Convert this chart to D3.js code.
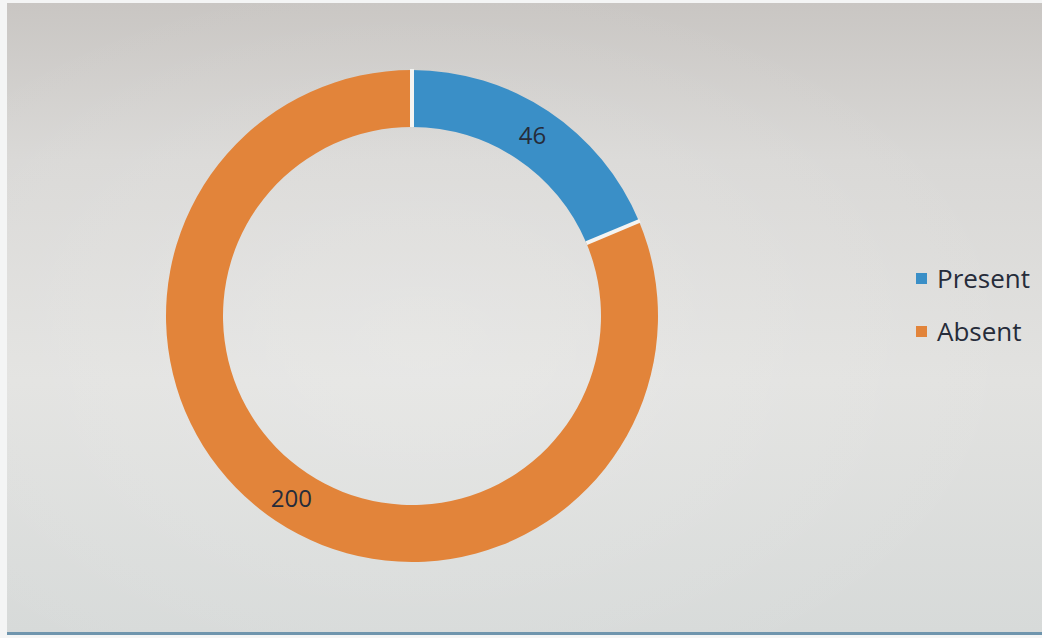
<!DOCTYPE html>
<html>
<head>
<meta charset="utf-8">
<script src="https://cdn.jsdelivr.net/npm/d3@7/dist/d3.min.js"></script>
<style>
  html, body { margin: 0; padding: 0; background: #f4f5f5; }
  svg { display: block; }
</style>
</head>
<body>
<svg id="chart" width="1042" height="638"></svg>
<script>
// Attendance breakdown
const categories = ["Present", "Absent"];
const values = [46, 200];
const colors = ["#3a8fc7", "#e2843a"];

const W = 1042, H = 638;
const svg = d3.select("#chart");

// paper-like backdrop with soft lighting
const defs = svg.append("defs");
const lg = defs.append("linearGradient").attr("id", "bg").attr("x1", 0).attr("y1", 0).attr("x2", 0).attr("y2", 1);
lg.append("stop").attr("offset", "0%").attr("stop-color", "#c9c6c3");
lg.append("stop").attr("offset", "25%").attr("stop-color", "#d9d8d6");
lg.append("stop").attr("offset", "60%").attr("stop-color", "#e2e2e0");
lg.append("stop").attr("offset", "100%").attr("stop-color", "#d7dad9");
const rg = defs.append("radialGradient").attr("id", "glow").attr("cx", 0.4).attr("cy", 0.55).attr("r", 0.6);
rg.append("stop").attr("offset", "0%").attr("stop-color", "#ffffff").attr("stop-opacity", 0.2);
rg.append("stop").attr("offset", "100%").attr("stop-color", "#ffffff").attr("stop-opacity", 0);

svg.append("rect").attr("x", 7).attr("y", 3).attr("width", W - 7).attr("height", 630).attr("fill", "url(#bg)");
svg.append("rect").attr("x", 7).attr("y", 3).attr("width", W - 7).attr("height", 630).attr("fill", "url(#glow)");
svg.append("rect").attr("x", 7).attr("y", 632).attr("width", W - 7).attr("height", 3).attr("fill", "#6f95ad");

// donut
const cx = 412, cy = 316, rOuter = 246, rInner = 189;
const pie = d3.pie().sort(null).value(d => d.value);
const arc = d3.arc().innerRadius(rInner).outerRadius(rOuter);
const data = categories.map((c, i) => ({ name: c, value: values[i], color: colors[i] }));
const arcs = pie(data);

const g = svg.append("g").attr("transform", `translate(${cx},${cy})`);
g.selectAll("path.slice")
  .data(arcs)
  .join("path")
  .attr("class", "slice")
  .attr("d", arc)
  .attr("fill", d => d.data.color);

// white separators between slices
g.selectAll("line.sep")
  .data(arcs)
  .join("line")
  .attr("class", "sep")
  .attr("x1", d => rInner * Math.sin(d.startAngle))
  .attr("y1", d => -rInner * Math.cos(d.startAngle))
  .attr("x2", d => (rOuter + 1) * Math.sin(d.startAngle))
  .attr("y2", d => -(rOuter + 1) * Math.cos(d.startAngle))
  .attr("stroke", "#f4f4f2")
  .attr("stroke-width", 4);

g.selectAll("text.val")
  .data(arcs)
  .join("text")
  .attr("class", "val")
  .attr("transform", d => `translate(${arc.centroid(d)})`)
  .attr("text-anchor", "middle")
  .attr("dominant-baseline", "central")
  .attr("font-family", "'Open Sans', 'DejaVu Sans', sans-serif")
  .attr("font-size", 24)
  .attr("fill", "#262c3a")
  .text(d => d.data.value);

// legend
const legend = svg.append("g").attr("transform", "translate(916,0)");
const legendY = d3.scalePoint().domain(categories).range([278, 331]);
const items = legend.selectAll("g.item").data(data).join("g")
  .attr("class", "item")
  .attr("transform", d => `translate(0,${legendY(d.name)})`);
items.append("rect").attr("x", 0).attr("y", -5).attr("width", 11).attr("height", 11).attr("fill", d => d.color);
items.append("text")
  .attr("x", 21)
  .attr("y", 0)
  .attr("dominant-baseline", "central")
  .attr("font-family", "'Open Sans', 'DejaVu Sans', sans-serif")
  .attr("font-size", 26)
  .attr("fill", "#262c3a")
  .text(d => d.name);
</script>
</body>
</html>
